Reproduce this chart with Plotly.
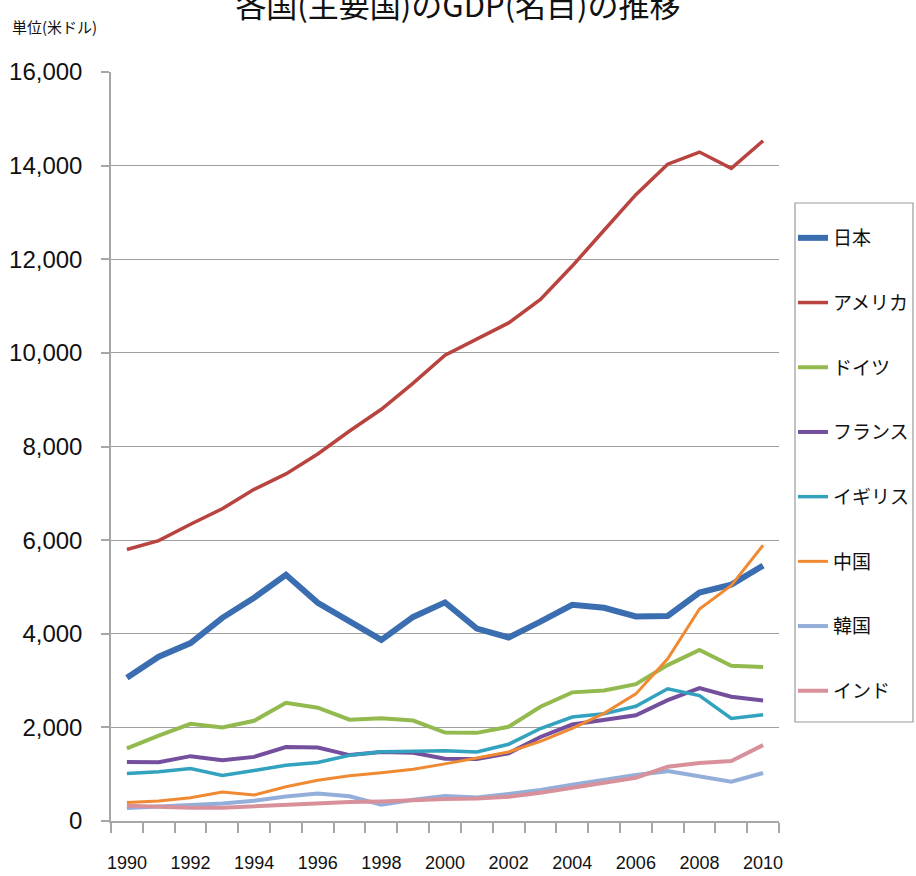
import plotly.graph_objects as go

years = list(range(1990, 2011))
series_names = ["日本", "アメリカ", "ドイツ", "フランス", "イギリス", "中国", "韓国", "インド"]

japan = [3060, 3510, 3800, 4340, 4770, 5260, 4660, 4280, 3870, 4360, 4670, 4110, 3920, 4260, 4620, 4555, 4370, 4380, 4880, 5050, 5455]
usa = [5800, 5990, 6340, 6670, 7085, 7415, 7840, 8330, 8795, 9355, 9950, 10285, 10640, 11140, 11855, 12620, 13380, 14030, 14290, 13940, 14530]
germany = [1550, 1825, 2075, 2000, 2140, 2525, 2420, 2165, 2195, 2145, 1890, 1883, 2013, 2440, 2748, 2790, 2922, 3330, 3655, 3315, 3290]
france = [1260, 1255, 1385, 1300, 1370, 1580, 1568, 1408, 1475, 1457, 1330, 1325, 1448, 1795, 2060, 2150, 2260, 2583, 2840, 2655, 2575]
uk = [1015, 1050, 1120, 975, 1080, 1190, 1250, 1405, 1478, 1495, 1500, 1475, 1640, 1975, 2220, 2290, 2450, 2825, 2680, 2190, 2270]
china = [395, 425, 495, 620, 557, 730, 870, 965, 1030, 1105, 1220, 1340, 1475, 1700, 1980, 2300, 2715, 3465, 4530, 5030, 5890]
korea = [280, 315, 335, 372, 432, 525, 585, 528, 348, 455, 535, 502, 577, 665, 775, 880, 985, 1065, 950, 838, 1025]
india = [325, 295, 282, 282, 318, 350, 378, 405, 418, 448, 468, 480, 520, 605, 705, 815, 925, 1160, 1240, 1280, 1620]

values = [japan, usa, germany, france, uk, china, korea, india]
colors = ["#3B6DB1", "#B9433F", "#93BA4F", "#744F9E", "#32A2BE", "#F08A32", "#94AEDA", "#D8919A"]
widths = [6, 3.5, 4, 4, 3.5, 3, 4, 4]

y_ticks = list(range(0, 16001, 2000))
x_label_years = years[::2]

fig = go.Figure()
for name, vals, col, w in zip(series_names, values, colors, widths):
    fig.add_trace(go.Scatter(
        x=years, y=vals, name=name, mode="lines",
        line=dict(color=col, width=w),
        legendgroup=name,
    ))

num_font = "Liberation Sans, Arial, sans-serif"
jp_font = "Noto Sans CJK JP, sans-serif"

fig.update_layout(
    width=916, height=876,
    margin=dict(l=111, r=137, t=72, b=55, autoexpand=False),
    paper_bgcolor="white", plot_bgcolor="white",
    title=dict(text="各国(主要国)のGDP(名目)の推移", x=0.5, xanchor="center",
               yref="container", y=1 - 6 / 876, yanchor="middle",
               font=dict(family=jp_font, size=31, color="#111111")),
    showlegend=True,
    legend=dict(x=(793 - 111) / 668, y=(821 - 219) / 749, xanchor="left", yanchor="top",
                bgcolor="rgba(0,0,0,0)", borderwidth=0,
                font=dict(family=jp_font, size=19, color="#111111"),
                tracegroupgap=37, itemwidth=30),
    xaxis=dict(range=[1989.5, 2010.5], tickmode="array", tickvals=x_label_years,
               ticktext=[str(y) for y in x_label_years], ticks="",
               showgrid=False, zeroline=False, automargin=False,
               showline=True, linecolor="#a6a6a6", linewidth=1.5,
               tickfont=dict(family=num_font, size=18, color="#111111"),
               ticklabelstandoff=25,
               minor=dict(tickmode="array", tickvals=[y - 0.5 for y in years] + [years[-1] + 0.5],
                          ticks="outside", ticklen=10, tickcolor="#a6a6a6", tickwidth=1.5, showgrid=False)),
    yaxis=dict(range=[0, 16000], tickmode="array", tickvals=y_ticks, tickformat=",d",
               ticks="outside", ticklen=8, tickcolor="#a6a6a6", tickwidth=1.5,
               showgrid=True, gridcolor="#a0a0a0", gridwidth=1, automargin=False,
               zeroline=False, showline=True, linecolor="#a6a6a6", linewidth=1.5,
               tickfont=dict(family=num_font, size=24, color="#111111"),
               ticklabelstandoff=14),
    annotations=[dict(text="単位(米ドル)", xref="paper", yref="paper",
                      x=(10 - 111) / 668, y=(821 - 27) / 749, xanchor="left", yanchor="middle",
                      showarrow=False, font=dict(family=jp_font, size=15, color="#111111"))],
    shapes=[dict(type="rect", xref="paper", yref="paper",
                 x0=(795 - 111) / 668, x1=(913 - 111) / 668,
                 y0=(821 - 722) / 749, y1=(821 - 203) / 749,
                 line=dict(color="#9a9a9a", width=1.2), fillcolor="rgba(0,0,0,0)", layer="below")],
)

fig.write_html("out.html", config={"displayModeBar": False},
               post_script="document.body.style.margin='0';document.body.style.overflow='hidden';")
